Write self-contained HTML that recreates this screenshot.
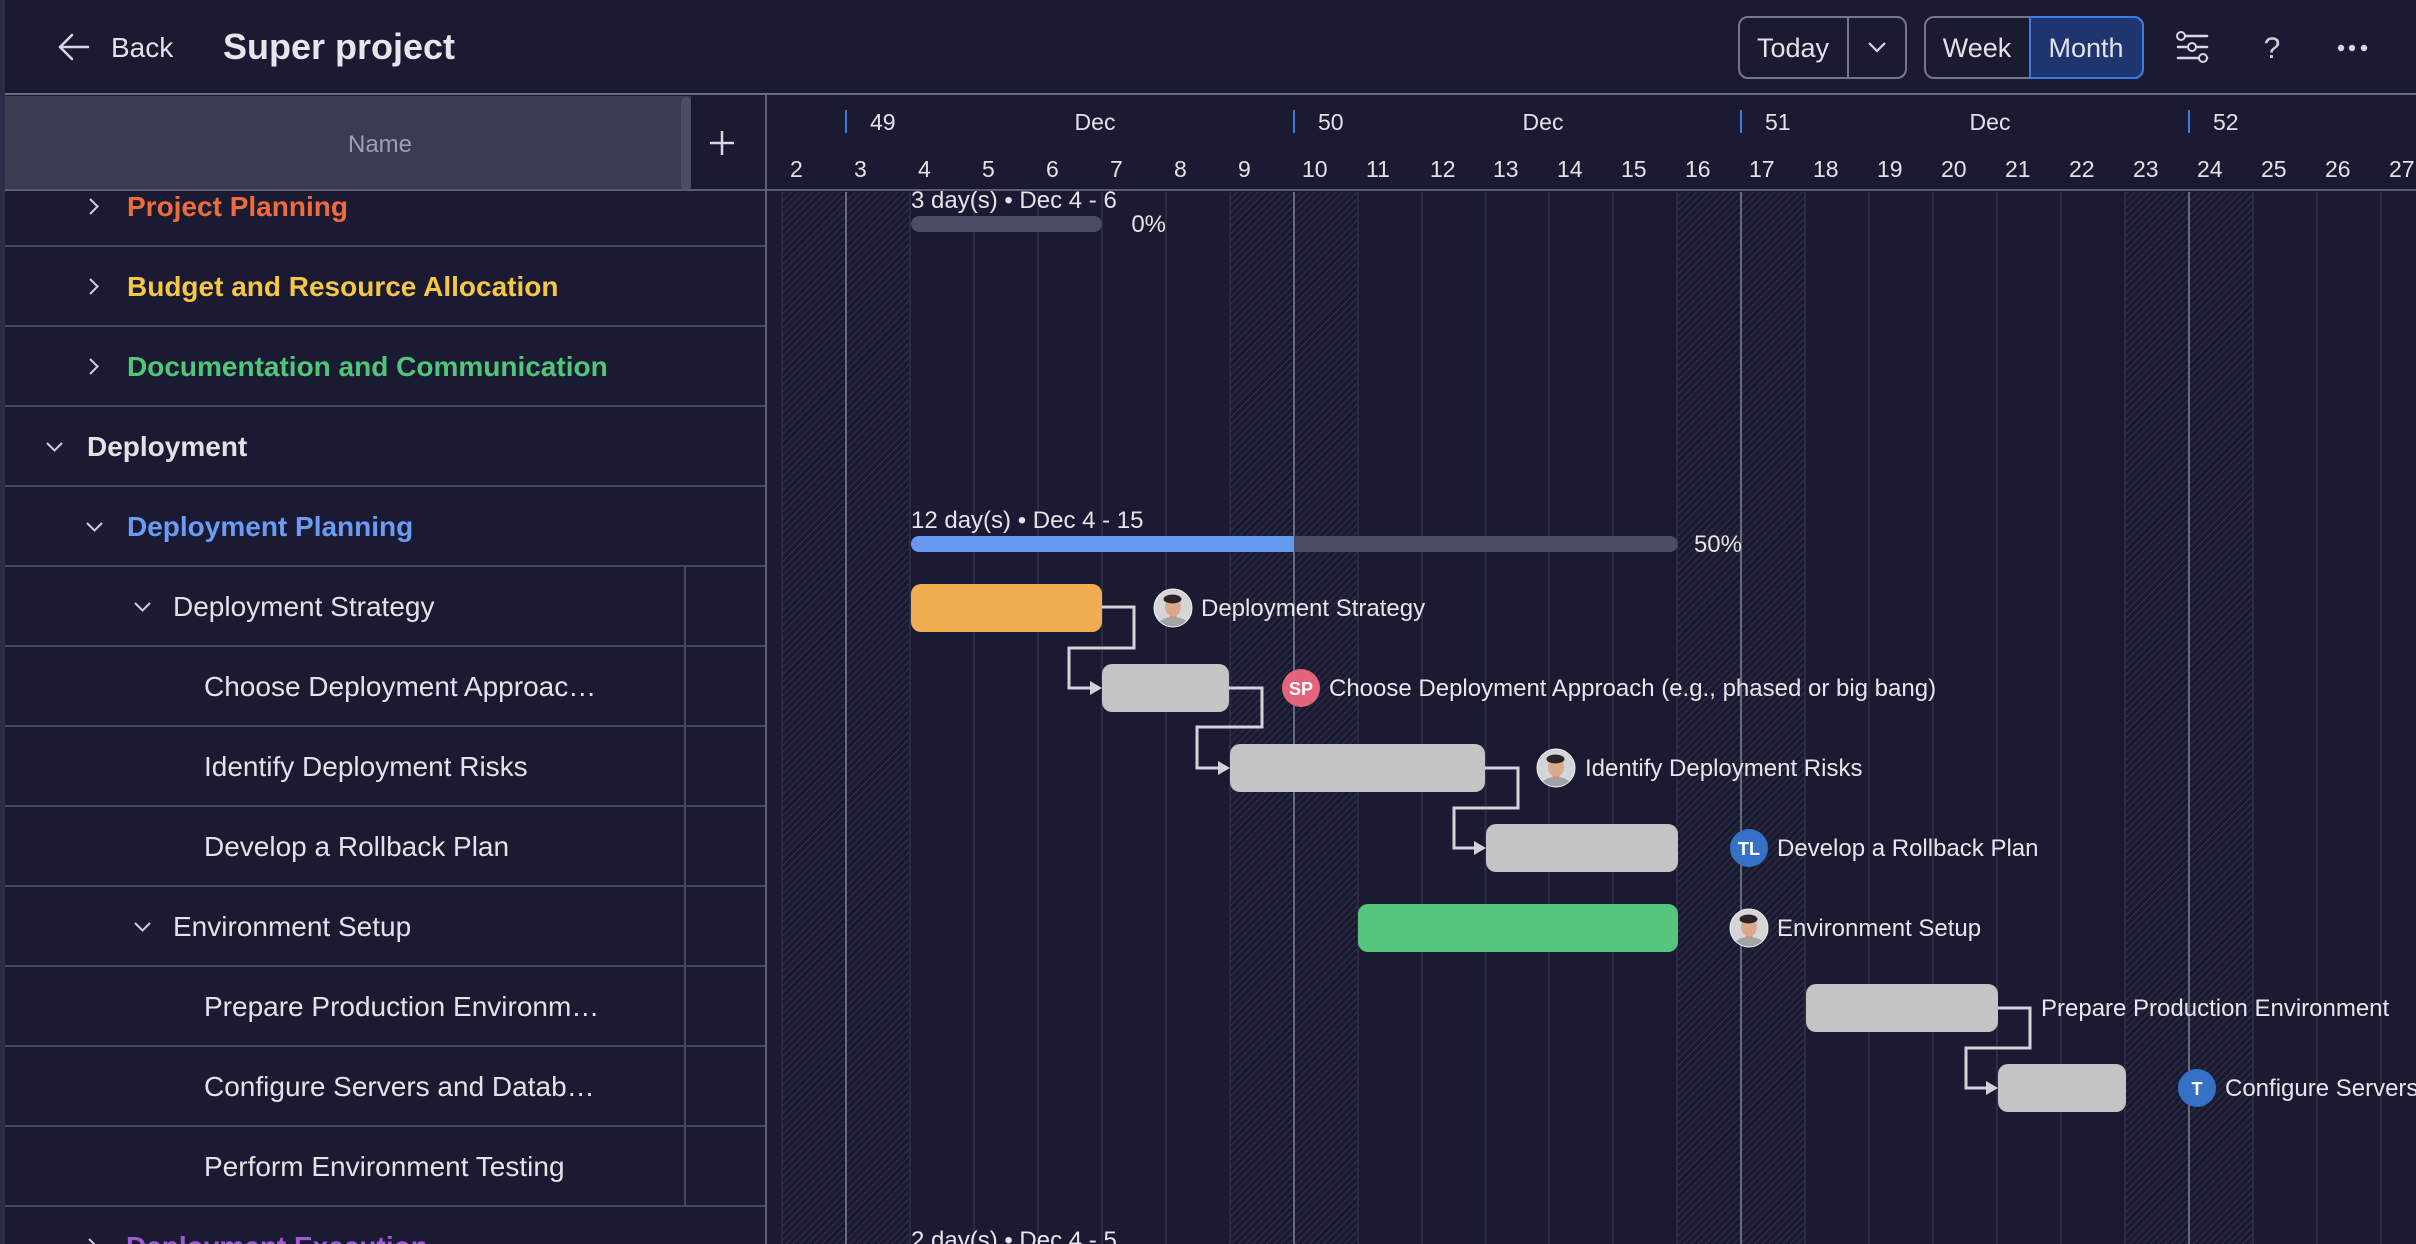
<!DOCTYPE html>
<html><head><meta charset="utf-8"><style>
html,body{margin:0;padding:0;background:#1a1b32;}
body{width:2416px;height:1244px;overflow:hidden;position:relative;}
svg{position:absolute;left:0;top:0;display:block;}
text{font-family:"Liberation Sans",Arial,sans-serif;}
</style></head><body>
<svg width="2416" height="1244" viewBox="0 0 2416 1244" xmlns="http://www.w3.org/2000/svg">
<defs>
<pattern id="hatch" patternUnits="userSpaceOnUse" width="5" height="5" patternTransform="rotate(45)">
<line x1="0" y1="0" x2="0" y2="5" stroke="#363950" stroke-width="1.6"/>
</pattern>
<clipPath id="cc"><circle cx="0" cy="0" r="19"/></clipPath>
<g id="ph">
<g clip-path="url(#cc)">
<circle cx="0" cy="0" r="19" fill="#d5d5d8"/>
<ellipse cx="0" cy="19" rx="16" ry="10" fill="#9fa4ab"/>
<rect x="-3.5" y="5" width="7" height="6" fill="#c9967a"/>
<ellipse cx="0" cy="-1" rx="8" ry="9.5" fill="#d9a98b"/>
<ellipse cx="-0.5" cy="-9" rx="9" ry="4.5" fill="#2a2523"/>
</g>
<circle cx="0" cy="0" r="19" fill="none" stroke="#eeeef2" stroke-width="1"/>
</g>
</defs>

<!-- background -->
<rect x="0" y="0" width="2416" height="1244" fill="#1a1b32"/>

<!-- weekend hatch -->
<rect x="782" y="192" width="128" height="1052" fill="url(#hatch)"/>
<rect x="1230" y="192" width="128" height="1052" fill="url(#hatch)"/>
<rect x="1677" y="192" width="128" height="1052" fill="url(#hatch)"/>
<rect x="2125" y="192" width="128" height="1052" fill="url(#hatch)"/>

<!-- day grid lines -->
<g fill="#2a2c44">
<rect x="781" y="192" width="2" height="1052"/>
<rect x="909" y="192" width="2" height="1052"/>
<rect x="973" y="192" width="2" height="1052"/>
<rect x="1037" y="192" width="2" height="1052"/>
<rect x="1101" y="192" width="2" height="1052"/>
<rect x="1165" y="192" width="2" height="1052"/>
<rect x="1229" y="192" width="2" height="1052"/>
<rect x="1357" y="192" width="2" height="1052"/>
<rect x="1421" y="192" width="2" height="1052"/>
<rect x="1484.5" y="192" width="2" height="1052"/>
<rect x="1548" y="192" width="2" height="1052"/>
<rect x="1612" y="192" width="2" height="1052"/>
<rect x="1676" y="192" width="2" height="1052"/>
<rect x="1804" y="192" width="2" height="1052"/>
<rect x="1868" y="192" width="2" height="1052"/>
<rect x="1932" y="192" width="2" height="1052"/>
<rect x="1996" y="192" width="2" height="1052"/>
<rect x="2060" y="192" width="2" height="1052"/>
<rect x="2124" y="192" width="2" height="1052"/>
<rect x="2252" y="192" width="2" height="1052"/>
<rect x="2316" y="192" width="2" height="1052"/>
<rect x="2380" y="192" width="2" height="1052"/>
</g>
<!-- week lines -->
<g fill="#686a82">
<rect x="845" y="192" width="2" height="1052"/>
<rect x="1293" y="192" width="2" height="1052"/>
<rect x="1740" y="192" width="2" height="1052"/>
<rect x="2188" y="192" width="2" height="1052"/>
</g>

<!-- timeline header -->
<rect x="767" y="95" width="1649" height="95" fill="#1a1b32"/>
<g fill="#3b7be6">
<rect x="845" y="110" width="2" height="23"/>
<rect x="1293" y="110" width="2" height="23"/>
<rect x="1740" y="110" width="2" height="23"/>
<rect x="2188" y="110" width="2" height="23"/>
</g>
<g fill="#e2e2e8" font-size="23">
<text x="870" y="130">49</text>
<text x="1318" y="130">50</text>
<text x="1765" y="130">51</text>
<text x="2213" y="130">52</text>
<text x="1095" y="130" text-anchor="middle">Dec</text>
<text x="1543" y="130" text-anchor="middle">Dec</text>
<text x="1990" y="130" text-anchor="middle">Dec</text>
</g>
<g fill="#e2e2e8" font-size="23">
<text x="790" y="177">2</text>
<text x="854" y="177">3</text>
<text x="918" y="177">4</text>
<text x="982" y="177">5</text>
<text x="1046" y="177">6</text>
<text x="1110" y="177">7</text>
<text x="1174" y="177">8</text>
<text x="1238" y="177">9</text>
<text x="1302" y="177">10</text>
<text x="1366" y="177">11</text>
<text x="1430" y="177">12</text>
<text x="1493" y="177">13</text>
<text x="1557" y="177">14</text>
<text x="1621" y="177">15</text>
<text x="1685" y="177">16</text>
<text x="1749" y="177">17</text>
<text x="1813" y="177">18</text>
<text x="1877" y="177">19</text>
<text x="1941" y="177">20</text>
<text x="2005" y="177">21</text>
<text x="2069" y="177">22</text>
<text x="2133" y="177">23</text>
<text x="2197" y="177">24</text>
<text x="2261" y="177">25</text>
<text x="2325" y="177">26</text>
<text x="2389" y="177">27</text>
</g>

<!-- summary row 0 -->
<text x="911" y="208" font-size="24" fill="#e4e4ea">3 day(s) • Dec 4 - 6</text>
<rect x="911" y="216" width="191" height="16" rx="8" fill="#4a4c68"/>
<text x="1166" y="232" font-size="24" fill="#e4e4ea" text-anchor="end">0%</text>

<!-- summary row 4 -->
<text x="911" y="528" font-size="24" fill="#e4e4ea">12 day(s) • Dec 4 - 15</text>
<rect x="911" y="536" width="767" height="16" rx="8" fill="#4a4c68"/>
<rect x="911" y="536" width="383" height="16" rx="8" fill="#6699f0"/>
<rect x="1280" y="536" width="14" height="16" fill="#6699f0"/>
<text x="1742" y="552" font-size="24" fill="#e4e4ea" text-anchor="end">50%</text>

<!-- connectors -->
<g fill="none" stroke="#d2d2da" stroke-width="3">
<path d="M1102,607 H1134 V648 H1069 V688 H1094"/>
<path d="M1229,688 H1262 V727 H1197 V768 H1222"/>
<path d="M1485,768 H1518 V808 H1454 V848 H1478"/>
<path d="M1998,1008 H2030 V1048 H1966 V1088 H1990"/>
</g>
<g fill="#d2d2da">
<polygon points="1090,681 1102,688 1090,695"/>
<polygon points="1218,761 1230,768 1218,775"/>
<polygon points="1474,841 1486,848 1474,855"/>
<polygon points="1986,1081 1998,1088 1986,1095"/>
</g>

<!-- task bars -->
<rect x="911" y="584" width="191" height="48" rx="10" fill="#f0ae52"/>
<rect x="1102" y="664" width="127" height="48" rx="10" fill="#c4c4c4"/>
<rect x="1230" y="744" width="255" height="48" rx="10" fill="#c4c4c4"/>
<rect x="1486" y="824" width="192" height="48" rx="10" fill="#c4c4c4"/>
<rect x="1358" y="904" width="320" height="48" rx="10" fill="#58c57e"/>
<rect x="1806" y="984" width="192" height="48" rx="10" fill="#c4c4c4"/>
<rect x="1998" y="1064" width="128" height="48" rx="10" fill="#c4c4c4"/>

<!-- avatars -->
<use href="#ph" x="1173" y="608"/>
<circle cx="1301" cy="688" r="19" fill="#e3657d"/>
<text x="1301" y="695" font-size="18" font-weight="bold" fill="#ffffff" text-anchor="middle">SP</text>
<use href="#ph" x="1556" y="768"/>
<circle cx="1749" cy="848" r="19" fill="#3571c5"/>
<text x="1749" y="855" font-size="18" font-weight="bold" fill="#ffffff" text-anchor="middle">TL</text>
<use href="#ph" x="1749" y="928"/>
<circle cx="2197" cy="1088" r="19" fill="#3571c5"/>
<text x="2197" y="1095" font-size="18" font-weight="bold" fill="#ffffff" text-anchor="middle">T</text>

<!-- bar labels -->
<g font-size="24" fill="#e6e6ec">
<text x="1201" y="616">Deployment Strategy</text>
<text x="1329" y="696">Choose Deployment Approach (e.g., phased or big bang)</text>
<text x="1585" y="776">Identify Deployment Risks</text>
<text x="1777" y="856">Develop a Rollback Plan</text>
<text x="1777" y="936">Environment Setup</text>
<text x="2041" y="1016">Prepare Production Environment</text>
<text x="2225" y="1096">Configure Servers and Databases</text>
<text x="911" y="1248">2 day(s) • Dec 4 - 5</text>
</g>

<!-- left panel -->
<rect x="5" y="95" width="761" height="1149" fill="#1a1b32"/>
<rect x="5" y="96" width="686" height="94" fill="#3a3c52"/>
<rect x="681" y="97" width="10" height="93" rx="5" fill="#4c4e66"/>
<text x="380" y="152" font-size="24" fill="#9d9fb3" text-anchor="middle">Name</text>
<g stroke="#d8d8e0" stroke-width="2.5"><line x1="710" y1="143" x2="734" y2="143"/><line x1="722" y1="131" x2="722" y2="155"/></g>

<!-- row lines -->
<g fill="#45475f">
<rect x="5" y="245" width="761" height="2"/>
<rect x="5" y="325" width="761" height="2"/>
<rect x="5" y="405" width="761" height="2"/>
<rect x="5" y="485" width="761" height="2"/>
<rect x="5" y="565" width="761" height="2"/>
<rect x="5" y="645" width="761" height="2"/>
<rect x="5" y="725" width="761" height="2"/>
<rect x="5" y="805" width="761" height="2"/>
<rect x="5" y="885" width="761" height="2"/>
<rect x="5" y="965" width="761" height="2"/>
<rect x="5" y="1045" width="761" height="2"/>
<rect x="5" y="1125" width="761" height="2"/>
<rect x="5" y="1205" width="761" height="2"/>
<rect x="684" y="566" width="2" height="640"/>
</g>

<!-- chevrons -->
<g fill="none" stroke="#cfcfd8" stroke-width="2">
<polyline points="90,199 97.5,206.5 90,214"/>
<polyline points="90,279 97.5,286.5 90,294"/>
<polyline points="90,359 97.5,366.5 90,374"/>
<polyline points="47,443 54.5,450.5 62,443"/>
<polyline points="87,523 94.5,530.5 102,523"/>
<polyline points="135,603 142.5,610.5 150,603"/>
<polyline points="135,923 142.5,930.5 150,923"/>
<polyline points="89,1239 96.5,1246.5 89,1254"/>
</g>

<!-- row texts -->
<g font-size="28">
<text x="127" y="216" font-weight="bold" fill="#ef6b3a">Project Planning</text>
<text x="127" y="296" font-weight="bold" fill="#f6c744">Budget and Resource Allocation</text>
<text x="127" y="376" font-weight="bold" fill="#4fc777">Documentation and Communication</text>
<text x="87" y="456" font-weight="bold" fill="#e2e2e8">Deployment</text>
<text x="127" y="536" font-weight="bold" fill="#6a9cf6">Deployment Planning</text>
<text x="173" y="616" fill="#e2e2e8">Deployment Strategy</text>
<text x="204" y="696" fill="#e2e2e8">Choose Deployment Approac…</text>
<text x="204" y="776" fill="#e2e2e8">Identify Deployment Risks</text>
<text x="204" y="856" fill="#e2e2e8">Develop a Rollback Plan</text>
<text x="173" y="936" fill="#e2e2e8">Environment Setup</text>
<text x="204" y="1016" fill="#e2e2e8">Prepare Production Environm…</text>
<text x="204" y="1096" fill="#e2e2e8">Configure Servers and Datab…</text>
<text x="204" y="1176" fill="#e2e2e8">Perform Environment Testing</text>
<text x="126" y="1256" font-weight="bold" fill="#a05ad8">Deployment Execution</text>
</g>

<!-- header separators -->
<rect x="5" y="189" width="2411" height="2" fill="#595b73"/>
<rect x="765" y="95" width="2" height="1149" fill="#5e6078"/>

<!-- top bar -->
<rect x="0" y="0" width="2416" height="93" fill="#1a1b32"/>
<rect x="5" y="93" width="2411" height="2" fill="#6c6e86"/>
<g fill="none" stroke="#d8d8e0" stroke-width="2.5" stroke-linecap="round" stroke-linejoin="round">
<line x1="60" y1="47" x2="88" y2="47"/>
<polyline points="72,35 60,47 72,59"/>
</g>
<text x="111" y="57" font-size="28" fill="#e2e2e8">Back</text>
<text x="223" y="59" font-size="36" font-weight="bold" fill="#e6e6ec">Super project</text>

<rect x="1739" y="17" width="167" height="61" rx="9" fill="none" stroke="#75778e" stroke-width="2"/>
<line x1="1848" y1="17" x2="1848" y2="78" stroke="#75778e" stroke-width="2"/>
<text x="1793" y="57" font-size="27" fill="#e2e2e8" text-anchor="middle">Today</text>
<polyline points="1869,43 1877,51 1885,43" fill="none" stroke="#d8d8e0" stroke-width="2.2"/>

<rect x="1925" y="17" width="218" height="61" rx="9" fill="none" stroke="#75778e" stroke-width="2"/>
<path d="M2030,17 H2134 A9,9 0 0 1 2143,26 V69 A9,9 0 0 1 2134,78 H2030 Z" fill="#1f3570" stroke="#3b7be6" stroke-width="2"/>
<text x="1977" y="57" font-size="27" fill="#e2e2e8" text-anchor="middle">Week</text>
<text x="2086" y="57" font-size="27" fill="#e2e2e8" text-anchor="middle">Month</text>

<g stroke="#d8d8e0" stroke-width="2.5" stroke-linecap="round">
<line x1="2178" y1="36" x2="2207" y2="36"/>
<line x1="2178" y1="47" x2="2207" y2="47"/>
<line x1="2178" y1="58" x2="2207" y2="58"/>
</g>
<g fill="#1a1b32" stroke="#d8d8e0" stroke-width="2">
<circle cx="2181" cy="36" r="4"/>
<circle cx="2192" cy="47" r="4"/>
<circle cx="2203" cy="58" r="4"/>
</g>
<text x="2272" y="58" font-size="30" fill="#d0d0d8" text-anchor="middle">?</text>
<g fill="#d8d8e0">
<circle cx="2341" cy="48" r="3.2"/>
<circle cx="2352" cy="48" r="3.2"/>
<circle cx="2364" cy="48" r="3.2"/>
</g>

<!-- left strip -->
<rect x="0" y="0" width="5" height="1244" fill="#2b2e46"/>
</svg>
</body></html>
